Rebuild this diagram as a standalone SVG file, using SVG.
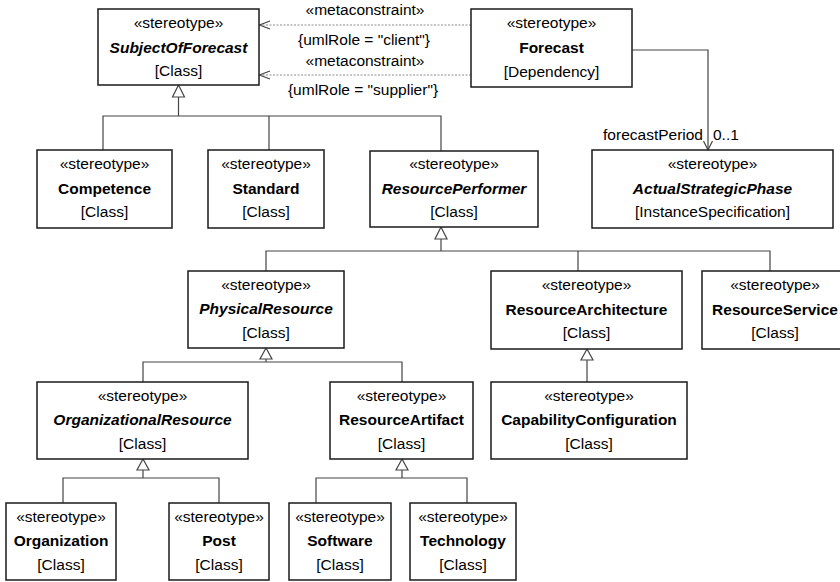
<svg xmlns="http://www.w3.org/2000/svg" width="840" height="582" viewBox="0 0 840 582">
<style>
  .box { fill: #ffffff; stroke: #1a1a1a; stroke-width: 1.5; }
  text { font-family: "Liberation Sans", Arial, sans-serif; font-size: 15.5px; fill: #000; }
  .c { text-anchor: middle; }
  .n { font-weight: bold; }
  .a { font-weight: bold; font-style: italic; }
  .ln { fill: none; stroke: #444; stroke-width: 1.2; }
  .dash { fill: none; stroke: #8a8a8a; stroke-width: 1; stroke-dasharray: 2 1.5; }
  .tri { fill: #ffffff; stroke: #444; stroke-width: 1.2; }
</style>

<g id="connectors">
  <!-- metaconstraints -->
  <line class="dash" x1="471" y1="25" x2="260" y2="25"/>
  <polyline class="ln" points="270,21 259.5,25 270,29"/>
  <line class="dash" x1="471" y1="75" x2="260" y2="75"/>
  <polyline class="ln" points="270,71 259.5,75 270,79"/>
  <text class="c" x="365" y="15">«metaconstraint»</text>
  <text class="c" x="364" y="45">{umlRole = "client"}</text>
  <text class="c" x="365" y="66">«metaconstraint»</text>
  <text class="c" x="363" y="95">{umlRole = "supplier"}</text>

  <!-- forecastPeriod association -->
  <polyline class="ln" points="632,50 708,50 708,150"/>
  <polyline class="ln" points="703.5,141 708,150 712.5,141"/>
  <text x="703" y="140" text-anchor="end">forecastPeriod</text>
  <text x="713" y="140">0..1</text>

  <!-- SubjectOfForecast generalization -->
  <polyline class="ln" points="178.5,97 178.5,116"/>
  <polyline class="ln" points="103,150 103,116 441,116 441,151"/>
  <line class="ln" x1="269" y1="116" x2="269" y2="150"/>
  <polygon class="tri" points="178.5,85 172.5,97 184.5,97"/>

  <!-- ResourcePerformer generalization -->
  <line class="ln" x1="441" y1="239" x2="441" y2="251"/>
  <polyline class="ln" points="266,271 266,251 770,251 770,271"/>
  <line class="ln" x1="578" y1="251" x2="578" y2="271"/>
  <polygon class="tri" points="441,227 435,239 447,239"/>

  <!-- PhysicalResource generalization -->
  <line class="ln" x1="266" y1="359" x2="266" y2="362"/>
  <polyline class="ln" points="143,382 143,362 402,362 402,382"/>
  <polygon class="tri" points="266,348 260,359 272,359"/>

  <!-- ResourceArchitecture generalization -->
  <line class="ln" x1="587" y1="360" x2="587" y2="382"/>
  <polygon class="tri" points="587,349 581,360 593,360"/>

  <!-- OrganizationalResource generalization -->
  <line class="ln" x1="143" y1="470" x2="143" y2="478"/>
  <polyline class="ln" points="63,503 63,478 219,478 219,503"/>
  <polygon class="tri" points="143,459 137,470 149,470"/>

  <!-- ResourceArtifact generalization -->
  <line class="ln" x1="402" y1="470" x2="402" y2="478"/>
  <polyline class="ln" points="316,503 316,478 467,478 467,503"/>
  <polygon class="tri" points="402,459 396,470 408,470"/>
</g>

<g id="SubjectOfForecast">
  <rect class="box" x="98" y="9" width="161" height="76"/>
  <text class="c" x="178.5" y="27.5">«stereotype»</text>
  <text class="c a" x="178.5" y="52.5">SubjectOfForecast</text>
  <text class="c" x="178.5" y="76">[Class]</text>
</g>

<g id="Forecast">
  <rect class="box" x="471" y="9" width="161" height="78"/>
  <text class="c" x="551.5" y="27.5">«stereotype»</text>
  <text class="c n" x="551.5" y="52.5">Forecast</text>
  <text class="c" x="551.5" y="77">[Dependency]</text>
</g>

<g id="Competence">
  <rect class="box" x="37" y="150" width="135" height="78"/>
  <text class="c" x="104.5" y="168.5">«stereotype»</text>
  <text class="c n" x="104.5" y="193.5">Competence</text>
  <text class="c" x="104.5" y="217">[Class]</text>
</g>

<g id="Standard">
  <rect class="box" x="208" y="150" width="116" height="78"/>
  <text class="c" x="266" y="168.5">«stereotype»</text>
  <text class="c n" x="266" y="193.5">Standard</text>
  <text class="c" x="266" y="217">[Class]</text>
</g>

<g id="ResourcePerformer">
  <rect class="box" x="370" y="151" width="168" height="76"/>
  <text class="c" x="454" y="169">«stereotype»</text>
  <text class="c a" x="454" y="193.5">ResourcePerformer</text>
  <text class="c" x="454" y="217">[Class]</text>
</g>

<g id="ActualStrategicPhase">
  <rect class="box" x="592" y="150" width="241" height="78"/>
  <text class="c" x="712.5" y="168.5">«stereotype»</text>
  <text class="c a" x="712.5" y="193.5">ActualStrategicPhase</text>
  <text class="c" x="712.5" y="217">[InstanceSpecification]</text>
</g>

<g id="PhysicalResource">
  <rect class="box" x="188" y="271" width="156" height="77"/>
  <text class="c" x="266" y="289.5">«stereotype»</text>
  <text class="c a" x="266" y="314">PhysicalResource</text>
  <text class="c" x="266" y="337.5">[Class]</text>
</g>

<g id="ResourceArchitecture">
  <rect class="box" x="491" y="271" width="191" height="78"/>
  <text class="c" x="586.5" y="289.5">«stereotype»</text>
  <text class="c n" x="586.5" y="314.5">ResourceArchitecture</text>
  <text class="c" x="586.5" y="338">[Class]</text>
</g>

<g id="ResourceService">
  <rect class="box" x="702" y="271" width="146" height="78"/>
  <text class="c" x="775" y="289.5">«stereotype»</text>
  <text class="c n" x="775" y="314.5">ResourceService</text>
  <text class="c" x="775" y="338">[Class]</text>
</g>

<g id="OrganizationalResource">
  <rect class="box" x="37" y="382" width="211" height="77"/>
  <text class="c" x="142.5" y="400.5">«stereotype»</text>
  <text class="c a" x="142.5" y="425">OrganizationalResource</text>
  <text class="c" x="142.5" y="448.5">[Class]</text>
</g>

<g id="ResourceArtifact">
  <rect class="box" x="330" y="382" width="143" height="77"/>
  <text class="c" x="401.5" y="400.5">«stereotype»</text>
  <text class="c n" x="401.5" y="425">ResourceArtifact</text>
  <text class="c" x="401.5" y="448.5">[Class]</text>
</g>

<g id="CapabilityConfiguration">
  <rect class="box" x="491" y="382" width="196" height="77"/>
  <text class="c" x="589" y="400.5">«stereotype»</text>
  <text class="c n" x="589" y="425">CapabilityConfiguration</text>
  <text class="c" x="589" y="448.5">[Class]</text>
</g>

<g id="Organization">
  <rect class="box" x="6" y="503" width="110" height="77"/>
  <text class="c" x="61" y="521.5">«stereotype»</text>
  <text class="c n" x="61" y="546">Organization</text>
  <text class="c" x="61" y="569.5">[Class]</text>
</g>

<g id="Post">
  <rect class="box" x="169" y="503" width="100" height="77"/>
  <text class="c" x="219" y="521.5">«stereotype»</text>
  <text class="c n" x="219" y="546">Post</text>
  <text class="c" x="219" y="569.5">[Class]</text>
</g>

<g id="Software">
  <rect class="box" x="289" y="503" width="102" height="77"/>
  <text class="c" x="340" y="521.5">«stereotype»</text>
  <text class="c n" x="340" y="546">Software</text>
  <text class="c" x="340" y="569.5">[Class]</text>
</g>

<g id="Technology">
  <rect class="box" x="410" y="503" width="106" height="77"/>
  <text class="c" x="463" y="521.5">«stereotype»</text>
  <text class="c n" x="463" y="546">Technology</text>
  <text class="c" x="463" y="569.5">[Class]</text>
</g>
</svg>
